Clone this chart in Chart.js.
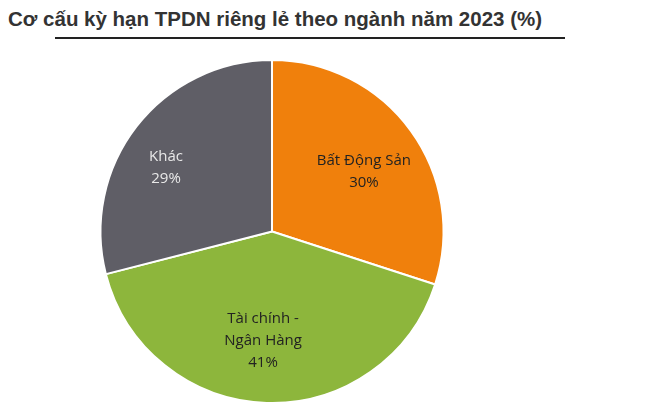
<!DOCTYPE html>
<html>
<head>
<meta charset="utf-8">
<script src="https://cdn.jsdelivr.net/npm/chart.js@4"></script>
<style>
  body { margin: 0; background: #fff; width: 650px; height: 418px; overflow: hidden; }
  #title { position: absolute; left: 8px; top: 7px; white-space: nowrap;
    font: bold 20.5px "Liberation Sans", Arial, sans-serif; color: #333; }
  #rule { position: absolute; left: 55px; top: 37px; width: 510px; height: 2px; background: #222; }
  #wrap { position: absolute; left: 0; top: 45px; width: 650px; height: 373px; }
</style>
</head>
<body>
<div id="title">Cơ cấu kỳ hạn TPDN riêng lẻ theo ngành năm 2023 (%)</div>
<div id="rule"></div>
<div id="wrap"><canvas id="pie"></canvas></div>
<script>
// Data
const sectors = [['Bất Động Sản'], ['Tài chính -', 'Ngân Hàng'], ['Khác']];
const shares = [30, 41, 29];
const sliceColors = ['#F0800C', '#8DB63C', '#5F5E66'];

// Draw the labels inside each slice
const sliceLabels = {
  id: 'sliceLabels',
  afterDatasetsDraw(chart) {
    const ctx = chart.ctx;
    const meta = chart.getDatasetMeta(0);
    ctx.save();
    ctx.font = '15px "Open Sans", "Liberation Sans", sans-serif';
    ctx.textAlign = 'center';
    ctx.textBaseline = 'middle';
    meta.data.forEach((arc, i) => {
      const mid = (arc.startAngle + arc.endAngle) / 2 + (i === 2 ? -0.12 : 0.05);
      const r = arc.outerRadius * (i === 2 ? 0.72 : 0.64);
      const x = arc.x + Math.cos(mid) * r;
      const y = arc.y + Math.sin(mid) * r;
      const lines = sectors[i].concat([shares[i] + '%']);
      ctx.fillStyle = i === 2 ? '#e8e8e8' : '#222';
      const top = y - (lines.length - 1) * 11;
      lines.forEach((t, k) => ctx.fillText(t, x, top + k * 22));
    });
    ctx.restore();
  }
};

new Chart(document.getElementById('pie'), {
  type: 'pie',
  data: {
    labels: sectors.map(s => s.join(' ')),
    datasets: [{
      data: shares,
      backgroundColor: sliceColors,
      borderColor: '#ffffff',
      borderWidth: 2
    }]
  },
  options: {
    responsive: true,
    maintainAspectRatio: false,
    animation: false,
    layout: { padding: { top: 14, bottom: 14, left: 0, right: 106 } },
    plugins: {
      legend: { display: false },
      tooltip: { enabled: false }
    }
  },
  plugins: [sliceLabels]
});
</script>
</body>
</html>
